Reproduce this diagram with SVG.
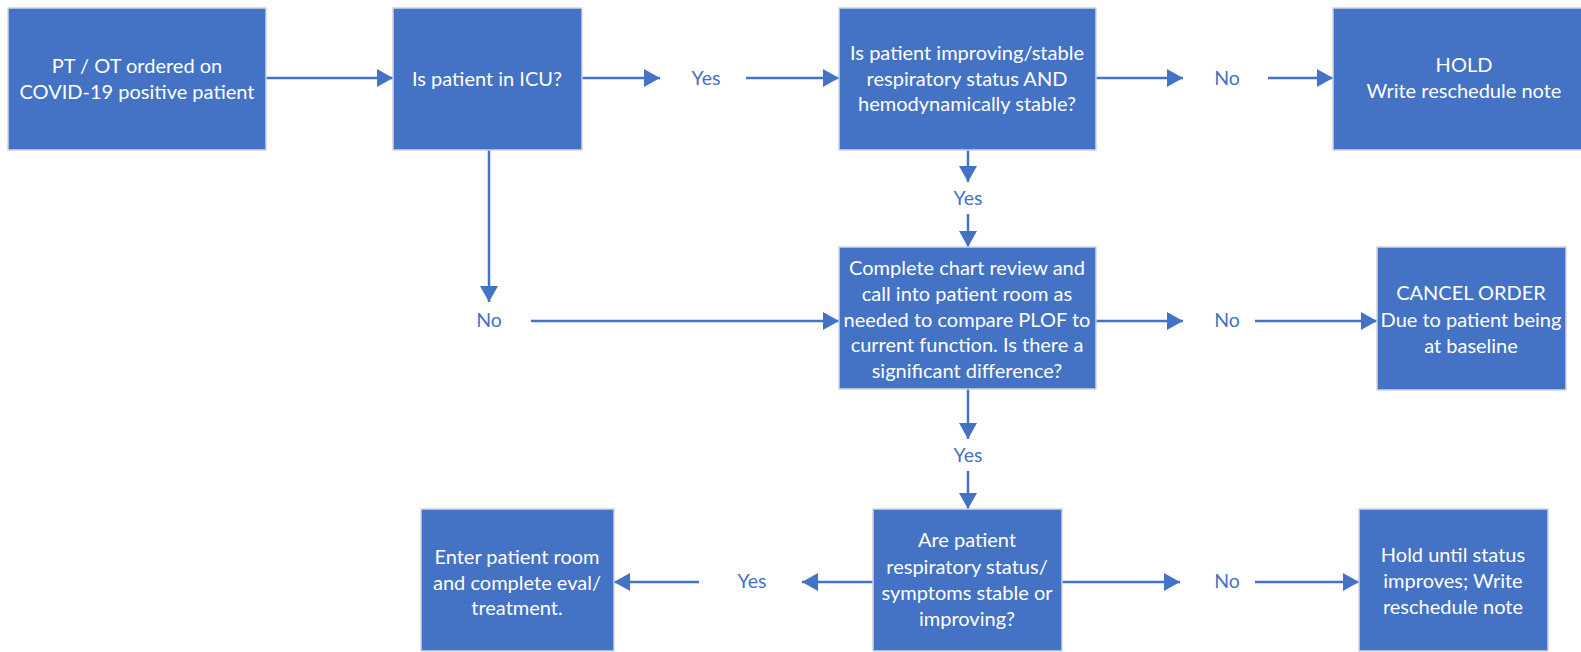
<svg xmlns="http://www.w3.org/2000/svg" width="1581" height="652" viewBox="0 0 1581 652">
<style>
.box{fill:#4472C4;stroke:#D0D6E0;stroke-width:1.5}
.bt{fill:#FFFFFF;font-family:Lato,"Liberation Sans",sans-serif;font-size:20px;text-anchor:middle}
.lb{fill:#4472C4;font-family:Lato,"Liberation Sans",sans-serif;font-size:19.5px;text-anchor:middle}
.ln{stroke:#4472C4;stroke-width:2.5;fill:none;marker-end:url(#ah)}
</style>
<defs>
<marker id="ah" markerUnits="userSpaceOnUse" markerWidth="18" markerHeight="18" refX="16" refY="9" orient="auto">
<path d="M0,0 L16,9 L0,18 Z" fill="#4472C4"/>
</marker>
</defs>
<rect width="1581" height="652" fill="#FFFFFF"/>
<g id="connectors">
<line class="ln" x1="266" y1="78" x2="393" y2="78"/>
<line class="ln" x1="582" y1="78" x2="660" y2="78"/>
<line class="ln" x1="746" y1="78" x2="839" y2="78"/>
<line class="ln" x1="1096" y1="78" x2="1183" y2="78"/>
<line class="ln" x1="1268" y1="78" x2="1333" y2="78"/>
<line class="ln" x1="968" y1="150" x2="968" y2="182"/>
<line class="ln" x1="968" y1="214" x2="968" y2="247"/>
<line class="ln" x1="489" y1="150" x2="489" y2="302"/>
<line class="ln" x1="531" y1="321" x2="839" y2="321"/>
<line class="ln" x1="1096" y1="321" x2="1183" y2="321"/>
<line class="ln" x1="1255" y1="321" x2="1377" y2="321"/>
<line class="ln" x1="968" y1="389" x2="968" y2="439"/>
<line class="ln" x1="968" y1="471" x2="968" y2="509"/>
<line class="ln" x1="873" y1="582" x2="802" y2="582"/>
<line class="ln" x1="699" y1="582" x2="614" y2="582"/>
<line class="ln" x1="1062" y1="582" x2="1180" y2="582"/>
<line class="ln" x1="1255" y1="582" x2="1359" y2="582"/>
<text class="lb" x="706" y="85">Yes</text>
<text class="lb" x="1227" y="85">No</text>
<text class="lb" x="968" y="205">Yes</text>
<text class="lb" x="489" y="327">No</text>
<text class="lb" x="1227" y="327">No</text>
<text class="lb" x="968" y="462">Yes</text>
<text class="lb" x="752" y="588">Yes</text>
<text class="lb" x="1227" y="588">No</text>
</g>
<g id="n1"><rect class="box" x="8" y="8" width="258" height="142"/>
<text class="bt" x="137" y="73">PT / OT ordered on</text><text class="bt" x="137" y="99">COVID-19 positive patient</text></g>
<g id="n2"><rect class="box" x="393" y="8" width="189" height="142"/>
<text class="bt" x="487" y="86">Is patient in ICU?</text></g>
<g id="n3"><rect class="box" x="839" y="8" width="257" height="142"/>
<text class="bt" x="967" y="60">Is patient improving/stable</text><text class="bt" x="967" y="86">respiratory status AND</text><text class="bt" x="967" y="111">hemodynamically stable?</text></g>
<g id="n4"><rect class="box" x="1333" y="8" width="262" height="142"/>
<text class="bt" x="1464" y="72">HOLD</text><text class="bt" x="1464" y="98">Write reschedule note</text></g>
<g id="n5"><rect class="box" x="839" y="247" width="257" height="142"/>
<text class="bt" x="967" y="275">Complete chart review and</text><text class="bt" x="967" y="301">call into patient room as</text><text class="bt" x="967" y="327">needed to compare PLOF to</text><text class="bt" x="967" y="352">current function. Is there a</text><text class="bt" x="967" y="378">significant difference?</text></g>
<g id="n6"><rect class="box" x="1377" y="247" width="189" height="143"/>
<text class="bt" x="1471" y="300">CANCEL ORDER</text><text class="bt" x="1471" y="327">Due to patient being</text><text class="bt" x="1471" y="353">at baseline</text></g>
<g id="n7"><rect class="box" x="873" y="509" width="189" height="142"/>
<text class="bt" x="967" y="547">Are patient</text><text class="bt" x="967" y="574">respiratory status/</text><text class="bt" x="967" y="600">symptoms stable or</text><text class="bt" x="967" y="626">improving?</text></g>
<g id="n8"><rect class="box" x="421" y="509" width="193" height="142"/>
<text class="bt" x="517" y="564">Enter patient room</text><text class="bt" x="517" y="590">and complete eval/</text><text class="bt" x="517" y="615">treatment.</text></g>
<g id="n9"><rect class="box" x="1359" y="509" width="189" height="142"/>
<text class="bt" x="1453" y="562">Hold until status</text><text class="bt" x="1453" y="588">improves; Write</text><text class="bt" x="1453" y="614">reschedule note</text></g>
</svg>
